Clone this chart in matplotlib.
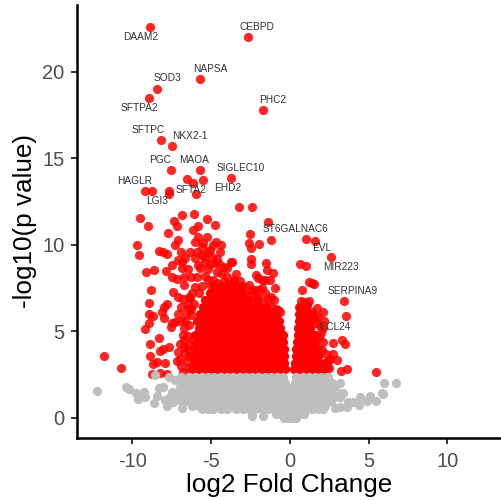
import matplotlib
matplotlib.use("Agg")
import matplotlib.pyplot as plt

plt.rcParams['font.family'] = ['Liberation Sans', 'DejaVu Sans']
plt.rcParams['axes.unicode_minus'] = False

gene_names = ["DAAM2","CEBPD","NAPSA","SOD3","SFTPA2","PHC2","SFTPC","NKX2-1","PGC","MAOA",
              "SIGLEC10","HAGLR","SFTA2","EHD2","LGI3","ST6GALNAC6","EVL","MIR223","SERPINA9","CCL24"]
gene_x = [-8.87,-2.69,-5.69,-8.44,-8.95,-1.71,-8.19,-7.47,-7.58,-5.69,
          -3.75,-9.23,-5.99,-5.5,-7.68,-1.4,1.57,2.6,3.43,2.12]
gene_y = [22.58,22.04,19.61,19.03,18.5,17.8,16.07,15.72,14.34,14.32,
          13.87,13.12,12.95,13.74,12.95,11.31,10.25,9.32,6.78,5.18]

sparse_red = [
 (-6.56,13.8),(-6.14,13.58),(-7.66,13.14),(-8.78,13.1),(-3.22,12.21),(-2.41,12.21),
 (-9.54,11.54),(-8.99,11.08),(-9.71,10.0),(-9.6,9.4),(-9.16,8.42),(-8.65,8.55),(-8.84,7.42),
 (-8.95,6.67),(-8.95,6.01),(-8.72,5.9),(-8.97,5.51),(-9.2,5.14),(-8.34,4.6),(-8.86,4.3),
 (-8.91,3.58),(-8.72,3.12),(-8.42,3.22),(-7.93,3.18),(-8.25,3.89),(-8.04,3.99),(-7.68,4.1),
 (-8.76,2.54),(-8.25,2.58),(-7.83,2.54),(-11.83,3.58),(-10.71,2.89),(-7.34,11.41),(-7.17,11.1),
 (-6.83,11.71),(-6.07,11.77),(-5.29,11.5),(-4.76,11.17),(-7.74,10.69),(-6.13,10.87),(-5.82,11.08),
 (-7.13,10.29),(-7.28,10.02),(-5.86,10.44),(-5.29,10.48),(-6.03,10.15),(-4.7,10.19),(-4.36,10.02),
 (-8.29,9.67),(-8.04,9.61),(-7.79,9.48),(-6.92,9.61),(-6.35,9.57),(-5.61,9.9),(-5.08,9.71),
 (-4.44,9.57),(-7.09,9.15),(-6.66,9.23),(-5.46,9.32),(-4.97,9.32),(-7.51,8.82),(-6.88,9.04),
 (-6.03,9.23),(-5.82,8.84),(-4.76,8.98),(-3.74,9.0),(-3.98,8.69),(-7.89,8.48),(-6.88,8.65),
 (-6.45,8.59),(-5.71,8.65),(-7.51,8.13),(-7.19,8.05),(-6.73,8.13),(-6.3,8.13),(-5.88,8.13),
 (-5.39,8.21),(-6.71,7.69),(-6.03,7.55),(-4.65,8.46),(-4.86,7.98),(-4.02,8.13),(-3.55,7.88),
 (-3.07,7.63),(-7.4,7.28),(-7.09,7.01),(-6.77,6.86),(-6.35,6.92),(-7.83,6.59),(-8.0,6.43),
 (-6.43,6.34),(-8.1,6.11),(-7.98,5.8),(-7.09,6.03),(-7.51,5.51),(-7.57,5.28),(-7.3,5.57),
 (-6.66,5.61),(-6.71,5.18),(-6.45,4.76),(-6.28,5.95),(-6.98,4.26),(-6.73,4.12),(-7.09,3.83),
 (-6.66,3.74),(-7.19,3.31),(-6.56,3.31),(-6.77,2.68),(-6.13,4.51),(-6.03,3.93),(-6.03,3.16),
 (-2.52,10.65),(-2.6,10.1),(-2.48,9.84),(-1.95,10.08),(-1.21,10.27),(-3.7,9.0),(-2.46,9.19),
 (-2.5,8.88),(-1.55,8.98),(-1.48,8.55),(-1.1,8.36),(-2.16,8.26),(-2.01,8.07),(-1.59,7.98),
 (-1.27,7.98),(-3.56,7.98),(-3.07,7.63),(-2.5,7.4),(-1.8,7.49),(-1.59,7.2),(-0.95,7.49),
 (-2.75,7.11),(-2.22,7.01),(-1.23,7.01),(-1.02,6.82),(-1.69,6.72),(-0.74,6.24),(-0.64,6.15),
 (-3.39,7.4),(1.02,10.35),(0.63,8.88),(1.02,8.8),(1.21,7.88),(1.38,7.82),(1.54,7.74),(0.76,7.42),
 (3.53,5.88),(3.32,4.51),(3.49,4.26),(2.75,4.31),(1.69,6.38),(2.12,6.11),(1.8,5.86),(2.18,5.6),
 (1.65,5.47),(1.21,6.78),(0.7,6.76),(1.86,4.66),(2.75,3.7),(2.96,3.35),(2.54,3.39),(2.33,2.87),
 (3.24,2.73),(3.6,2.85),(5.44,2.66),(2.01,3.93),
 (-5.2,8.0),(-5.6,7.6),(-5.0,7.6),(-4.6,7.8),(-4.2,7.9),(-3.8,7.7),(-3.4,7.5),(-4.4,8.4),(-5.2,8.6),
 (-5.4,9.0),(-5.1,8.9),(-5.6,9.4),(-5.2,9.6),(-5.9,9.6),(-5.5,10.1),(-4.9,10.0),(-6.4,7.0),(-6.1,6.6),
 (-5.8,7.2),(-6.2,7.2),(-6.5,6.5),(-6.6,6.0),(-6.4,5.4),(-6.4,4.2),(-6.4,3.6),(-6.4,2.9),
 (-3.2,7.9),(-2.9,7.2),(-2.6,7.7),(-2.3,7.4),(-2.0,7.4),(-1.4,6.9),(-1.5,6.4),(-1.2,6.4),(-0.9,6.3),
 (-2.0,7.0),(-1.8,8.0),
 (0.9,6.7),(1.1,6.5),(0.6,6.4),(1.4,6.1),(1.6,5.8),(1.9,5.3),(2.0,4.9),(2.1,4.4),(2.3,3.7),(2.4,3.3),
 (2.5,2.9),(2.2,3.1),
 (-6.8,4.8),(-6.7,4.5),(-6.9,5.6),(-6.9,6.4),(-6.3,6.3),(-7.0,3.4),(-6.9,3.0),(-6.5,4.0),
 (-4.5,8.9),(-4.2,8.7),(-4.6,9.2),(-3.4,8.3),
]
sparse_red_x = [p[0] for p in sparse_red]
sparse_red_y = [p[1] for p in sparse_red]

dense_red_rows = {
 2.8: [-6.2,-5.8,-5.4,-5.0,-4.6,-4.2,-3.8,-3.4,-3.0,-2.6,-2.2,-1.8,-1.4,-1.0,-0.6,-0.33,0.28,0.6,1.0,1.4,1.8,2.1],
 3.2: [-6.0,-5.6,-5.2,-4.8,-4.4,-4.0,-3.6,-3.2,-2.8,-2.4,-2.0,-1.6,-1.2,-0.8,-0.36,0.32,0.7,1.1,1.5,1.9,2.2],
 3.6: [-6.2,-5.8,-5.4,-5.0,-4.6,-4.2,-3.8,-3.4,-3.0,-2.6,-2.2,-1.8,-1.4,-1.0,-0.6,-0.38,0.36,0.6,1.0,1.4,1.8],
 4.0: [-6.0,-5.6,-5.2,-4.8,-4.4,-4.0,-3.6,-3.2,-2.8,-2.4,-2.0,-1.6,-1.2,-0.8,-0.4,0.4,0.7,1.1,1.5,1.8],
 4.4: [-5.9,-5.5,-5.1,-4.7,-4.3,-3.9,-3.5,-3.1,-2.7,-2.3,-1.9,-1.5,-1.1,-0.7,-0.42,0.44,0.8,1.2,1.6],
 4.8: [-6.0,-5.6,-5.2,-4.8,-4.4,-4.0,-3.6,-3.2,-2.8,-2.4,-2.0,-1.6,-1.2,-0.8,-0.45,0.48,0.8,1.2,1.6],
 5.2: [-5.8,-5.4,-5.0,-4.6,-4.2,-3.8,-3.4,-3.0,-2.6,-2.2,-1.8,-1.4,-1.0,-0.6,0.5,0.9,1.3],
 5.6: [-5.9,-5.5,-5.1,-4.7,-4.3,-3.9,-3.5,-3.1,-2.7,-2.3,-1.9,-1.5,-1.1,-0.7,0.55,0.9,1.3],
 6.0: [-5.7,-5.3,-4.9,-4.5,-4.1,-3.7,-3.3,-2.9,-2.5,-2.1,-1.7,-1.3,-0.9,0.6,1.0,1.35],
 6.4: [-5.5,-5.1,-4.7,-4.3,-3.9,-3.5,-3.1,-2.7,-2.3,-1.9,-1.5,0.65,1.0],
 6.8: [-5.4,-5.0,-4.6,-4.2,-3.8,-3.4,-3.0,-2.6,-2.1],
 7.2: [-5.1,-4.7,-4.3,-3.9,-3.5,-3.1],
 7.6: [-4.8,-4.4,-4.0],
}

gray_rows = {
 2.34: [-6.9,-6.4,-6.0,-5.6,-5.2,-4.8,-4.4,-4.0,-3.6,-3.2,-2.8,-2.4,-2.0,-1.6,-1.2,-0.8,-0.45,0.4,0.8,1.2,1.6,2.0,2.4],
 2.0: [-7.0,-6.6,-6.2,-5.8,-5.4,-5.0,-4.6,-4.2,-3.8,-3.4,-3.0,-2.6,-2.2,-1.8,-1.4,-1.0,-0.6,-0.3,0.3,0.6,1.0,1.4,1.8,2.2,2.7],
 1.75: [-7.0,-6.4,-6.0,-5.6,-5.2,-4.8,-4.4,-4.0,-3.6,-3.2,-2.8,-2.4,-2.0,-1.6,-1.2,-0.8,-0.4,0.0,0.4,0.8,1.2,1.6,2.0,2.4,2.8],
 1.5: [-7.5,-7.1,-6.6,-6.2,-5.8,-5.4,-5.0,-4.6,-4.2,-3.8,-3.4,-3.0,-2.6,-2.2,-1.8,-1.4,-1.0,-0.6,-0.2,0.2,0.6,1.0,1.4,1.8,2.2,2.6,3.0],
 1.2: [-7.6,-7.2,-6.8,-6.4,-6.0,-5.6,-5.2,-4.8,-4.4,-4.0,-3.6,-3.2,-2.8,-2.4,-2.0,-1.6,-1.2,-0.8,-0.4,0.0,0.4,0.8,1.2,1.6,2.0,2.4,2.8,3.2],
 0.95: [-6.9,-6.6,-6.2,-5.8,-5.4,-5.0,-4.6,-4.2,-3.8,-3.4,-3.0,-2.6,-2.2,-1.8,-1.4,-1.0,-0.6,-0.2,0.2,0.6,1.0,1.4,1.8,2.2,2.6],
 0.7: [-6.2,-5.8,-5.4,-5.0,-4.6,-4.2,-3.8,-3.4,-3.0,-2.6,-2.2,-1.8,-1.4,-1.0,-0.6,-0.2,0.2,0.6,1.0,1.4,1.8,2.2],
 0.5: [-5.6,-5.2,-4.9,-4.4,-4.0,-3.4,-3.0,-2.6,-2.2,-1.8,-1.4,-1.0,-0.6,-0.2,0.2,0.6,1.0,1.4,1.8,2.1],
 0.25: [-0.9,-0.6,-0.3,0.0,0.3,0.6,0.9],
 0.0: [-0.4,-0.15,0.15,0.4],
}
sparse_gray = [
 (-12.25,1.58),(-10.41,1.77),(-10.2,1.66),(-9.77,1.43),(-9.27,1.52),(-9.63,1.1),(-9.18,1.23),
 (-8.63,.89),(-8.46,1.27),(-8.29,1.72),(-7.93,1.04),(-7.83,.71),(-8.04,1.81),(-8.57,2.49),
 (-7.4,.94),(-6.83,.6),(-7.3,2.2),(-7.66,2.39),(-2.41,.12),(-1.73,.12),(5.99,2.04),(6.71,2.04),
 (5.82,1.46),(5.93,1.41),(5.46,1.0),(5.08,1.27),(4.87,1.0),(4.45,1.2),(4.41,.75),(4.02,.94),
 (3.71,.94),(3.6,.66),(3.18,.66),(2.86,.56),(3.39,1.43),(3.18,2.0),
]

label_offsets = [(-10,-10),(9,10),(10,10),(10,11),(-10,-10),(10,10),(-13,10),(18,10),(-10,10),(-6,10),
                 (10,10),(-10,10),(-5,4),(24,-8),(-12,-7),(28,-7),(7,-7),(10,-10),(9,10),(12,1)]

x_ticks = [-10,-5,0,5,10]
y_ticks = [0,5,10,15,20]

fig = plt.figure(figsize=(5.01,5.0), dpi=100)
ax = fig.add_axes([77/501, 1-438/500, (501-77)/501, (438-5)/500])

red = '#ff0000'
gray = '#bebebe'
ms = 44
dx = [x for y, xs in dense_red_rows.items() for x in xs]
dy = [y for y, xs in dense_red_rows.items() for x in xs]
ax.scatter(sparse_red_x + gene_x, sparse_red_y + gene_y, s=ms, c=red, alpha=0.85, linewidths=0, zorder=2)
ax.scatter(dx, dy, s=ms, c=red, alpha=1.0, linewidths=0, zorder=2)
gx = [x for y, xs in gray_rows.items() for x in xs] + [p[0] for p in sparse_gray]
gy = [y for y, xs in gray_rows.items() for x in xs] + [p[1] for p in sparse_gray]
ax.scatter(gx, gy, s=ms, c=gray, alpha=1.0, linewidths=0, zorder=3)

for name, x, y, off in zip(gene_names, gene_x, gene_y, label_offsets):
    ax.annotate(name, xy=(x, y), xytext=off, textcoords='offset pixels', ha='center', va='center',
                fontsize=7.3, color='#333333', zorder=4)

ax.set_xlim(-13.52, 13.4)
ax.set_ylim(-1.16, 23.87)
ax.set_xticks(x_ticks)
ax.set_xticklabels([str(t) for t in x_ticks])
ax.set_yticks(y_ticks)
ax.spines['top'].set_visible(False)
ax.spines['right'].set_visible(False)
ax.spines['left'].set_linewidth(1.8)
ax.spines['bottom'].set_linewidth(1.8)
ax.tick_params(length=4, width=1.4, color='#333333', labelcolor='#4d4d4d', labelsize=14.5)
ax.tick_params(axis='x', pad=6)
ax.tick_params(axis='y', pad=5)
ax.set_xlabel('log2 Fold Change', fontsize=18.8, color='black', labelpad=1.5)
ax.set_ylabel('-log10(p value)', fontsize=18.8, color='black', labelpad=4)
fig.savefig('out.png', dpi=100)
